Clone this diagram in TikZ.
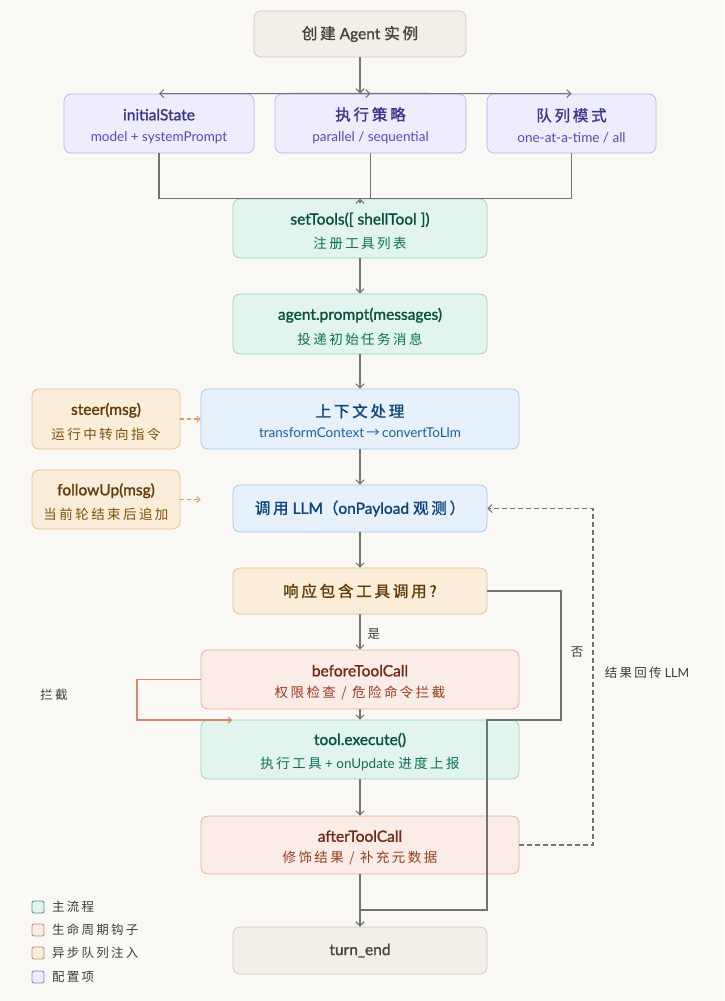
\documentclass[tikz,border=0pt]{standalone}
\usepackage{fontspec}
\setmainfont{Lato}[BoldFont={Lato},BoldFeatures={FakeBold=1.3}]
\newfontfamily\cjk[LetterSpace=18,BoldFont={Noto Sans CJK SC},BoldFeatures={FakeBold=1.3}]{Noto Sans CJK SC}
\usetikzlibrary{arrows.meta}
\newcommand{\zh}[1]{{\cjk #1}}
\definecolor{bg}{HTML}{FAF9F5}
\definecolor{gfill}{HTML}{F1EFE8}\definecolor{gdraw}{HTML}{C9C7BE}\definecolor{gtext}{HTML}{444441}
\definecolor{pfill}{HTML}{EEEDFE}\definecolor{pdraw}{HTML}{B5B0EC}\definecolor{ptext}{HTML}{3C3489}\definecolor{psub}{HTML}{534AB7}
\definecolor{tfill}{HTML}{E1F5EE}\definecolor{tdraw}{HTML}{8DD3B8}\definecolor{ttext}{HTML}{085041}\definecolor{tsub}{HTML}{0F6E56}
\definecolor{bfill}{HTML}{E6F1FB}\definecolor{bdraw}{HTML}{9CC4EC}\definecolor{btext}{HTML}{0C447C}\definecolor{bsub}{HTML}{185FA5}
\definecolor{afill}{HTML}{FAEEDA}\definecolor{adraw}{HTML}{E2BF86}\definecolor{atext}{HTML}{633806}\definecolor{asub}{HTML}{854F0B}
\definecolor{cfill}{HTML}{FCECE7}\definecolor{cdraw}{HTML}{F0A68C}\definecolor{ctext}{HTML}{712B13}\definecolor{csub}{HTML}{993C1D}
\definecolor{linec}{HTML}{737370}
\definecolor{dashor}{HTML}{D9A060}
\definecolor{icpt}{HTML}{D98566}
\definecolor{labc}{HTML}{3D3D3A}
\newcommand{\ttl}[1]{{\fontsize{15.5}{18}\selectfont\bfseries #1}}
\newcommand{\tsb}[3]{\rule{0pt}{17pt}\ttl{#2}\\[9pt]{\fontsize{13.5}{16}\selectfont\color{#1}#3}}
\tikzset{
  box/.style={rounded corners=7pt, line width=0.7pt, align=center, inner sep=0pt},
  gbox/.style={box, fill=gfill, draw=gdraw, text=gtext},
  pbox/.style={box, fill=pfill, draw=pdraw, text=ptext},
  tbox/.style={box, fill=tfill, draw=tdraw, text=ttext},
  bbox/.style={box, fill=bfill, draw=bdraw, text=btext},
  abox/.style={box, fill=afill, draw=adraw, text=atext},
  cbox/.style={box, fill=cfill, draw=cdraw, text=ctext},
  ln/.style={draw=linec, line width=1.1pt},
  arr/.style={ln, -{Straight Barb[length=4pt,width=8pt]}},
  dasharr/.style={draw=linec, line width=1.1pt, dash pattern=on 5pt off 3pt, -{Straight Barb[length=4pt,width=8pt]}},
  orarr/.style={draw=dashor, line width=1.1pt, dash pattern=on 4pt off 3pt, -{Straight Barb[length=3pt,width=6pt]}},
  icarr/.style={draw=icpt, line width=1.1pt, -{Straight Barb[length=3pt,width=6pt]}},
  lab/.style={text=labc, font=\fontsize{12.5}{15}\selectfont, inner sep=0pt},
  legsq/.style={rounded corners=2pt, line width=0.9pt, minimum width=12pt, minimum height=12pt, inner sep=0pt},
}
\begin{document}
\begin{tikzpicture}[x=1pt,y=-1pt]
\fill[bg] (0,0) rectangle (724,1001);
\useasboundingbox (0,0) rectangle (724,1001);

% nodes
\node[gbox, minimum width=212, minimum height=46] (create) at (360,34) {\ttl{\zh{创建} Agent \zh{实例}}};
\node[pbox, minimum width=190, minimum height=59] (init) at (159,123.5) {\tsb{psub}{initialState}{model + systemPrompt}};
\node[pbox, minimum width=191, minimum height=59] (strat) at (370.5,123.5) {\tsb{psub}{\zh{执行策略}}{parallel / sequential}};
\node[pbox, minimum width=169, minimum height=59] (queue) at (571.5,123.5) {\tsb{psub}{\zh{队列模式}}{one-at-a-time / all}};
\node[tbox, minimum width=254, minimum height=59] (set) at (360,228.5) {\tsb{tsub}{setTools([ shellTool ])}{\zh{注册工具列表}}};
\node[tbox, minimum width=254, minimum height=60] (prompt) at (360,324) {\tsb{tsub}{agent.prompt(messages)}{\zh{投递初始任务消息}}};
\node[bbox, minimum width=318, minimum height=60] (ctx) at (360,419) {\tsb{bsub}{\zh{上下文处理}}{transformContext\,\zh{→}\,convertToLlm}};
\node[abox, minimum width=148, minimum height=60] (steer) at (106,419) {\tsb{asub}{steer(msg)}{\zh{运行中转向指令}}};
\node[abox, minimum width=148, minimum height=59] (follow) at (106,499.5) {\tsb{asub}{followUp(msg)}{\zh{当前轮结束后追加}}};
\node[bbox, minimum width=254, minimum height=47] (llm) at (360,508.5) {\ttl{\zh{调用} LLM\zh{（}onPayload \zh{观测）}}};
\node[abox, minimum width=254, minimum height=46] (resp) at (360,591) {\ttl{\zh{响应包含工具调用?}}};
\node[cbox, minimum width=318, minimum height=59] (before) at (360,679.5) {\tsb{csub}{beforeToolCall}{\zh{权限检查 / 危险命令拦截}}};
\node[tbox, minimum width=318, minimum height=59] (exec) at (360,749.5) {\tsb{tsub}{tool.execute()}{\zh{执行工具} + onUpdate \zh{进度上报}}};
\node[cbox, minimum width=318, minimum height=58] (after) at (360,845) {\tsb{csub}{afterToolCall}{\zh{修饰结果 / 补充元数据}}};
\node[gbox, minimum width=254, minimum height=47] (turn) at (360,950.5) {\ttl{turn\_end}};

% coordinates
\coordinate (hub) at (360,93.5);
\coordinate (n1) at (561,591);
\coordinate (n2) at (561,720);
\coordinate (n3) at (487,720);
\coordinate (n4) at (487,910);
\coordinate (n5) at (360,910);
\coordinate (ic1) at (137,679.5);
\coordinate (ic2) at (232,720);
\coordinate (rb) at (593,508.5);

% top fan-out
\draw[arr] (create.south) -- (hub);
\draw[arr] (hub) -- (init.north);
\draw[arr] (hub) -- (strat.north);
\draw[arr] (hub) -- (queue.north);
% fan-in
\draw[ln] (init.south) |- (set.north);
\draw[ln] (queue.south) |- (set.north);
\draw[ln] (strat.south) |- (set.north);
\draw[arr] ([yshift=-4pt]set.north) -- (set.north);
% main flow
\draw[arr] (set) -- (prompt);
\draw[arr] (prompt) -- (ctx);
\draw[arr] (ctx) -- (llm);
\draw[arr] (llm) -- (resp);
\draw[arr] (resp) -- node[lab, right=7pt, pos=0.55] (yes) {\zh{是}} (before);
\draw[arr] (before) -- (exec);
\draw[arr] (exec) -- (after);
\draw[arr] (after) -- (turn);
% no branch
\draw[ln] (resp.east) -- (n1) -- (n2) -- (n3) -- (n4) -- (n5);
\draw[arr] (n5) -- (turn.north);
\node[lab] (no) at (577,652) {\zh{否}};
% intercept loop
\draw[icarr] (before.west) -- (ic1) |- (ic2);
\node[lab] (icl) at (54,695) {\zh{拦截}};
% async injections
\draw[orarr] (steer.east) -- (ctx.west);
\draw[orarr] (follow.east) -- (follow.east -| ctx.west);
% result back to LLM
\draw[dasharr] (after.east) -| (rb) -- (llm.east);
\node[lab] (back) at (647,673) {\zh{结果回传} LLM};

% legend
\node[legsq, fill=tfill, draw=tsub!70] (lg1) at (38,907) {};
\node[lab, anchor=west] (lt1) at (52,907) {\zh{主流程}};
\node[legsq, fill=cfill, draw=csub!60] (lg2) at (38,930) {};
\node[lab, anchor=west] (lt2) at (52,930) {\zh{生命周期钩子}};
\node[legsq, fill=afill, draw=asub!60] (lg3) at (38,953) {};
\node[lab, anchor=west] (lt3) at (52,953) {\zh{异步队列注入}};
\node[legsq, fill=pfill, draw=psub!70] (lg4) at (38,977) {};
\node[lab, anchor=west] (lt4) at (52,977) {\zh{配置项}};
\end{tikzpicture}
\end{document}
